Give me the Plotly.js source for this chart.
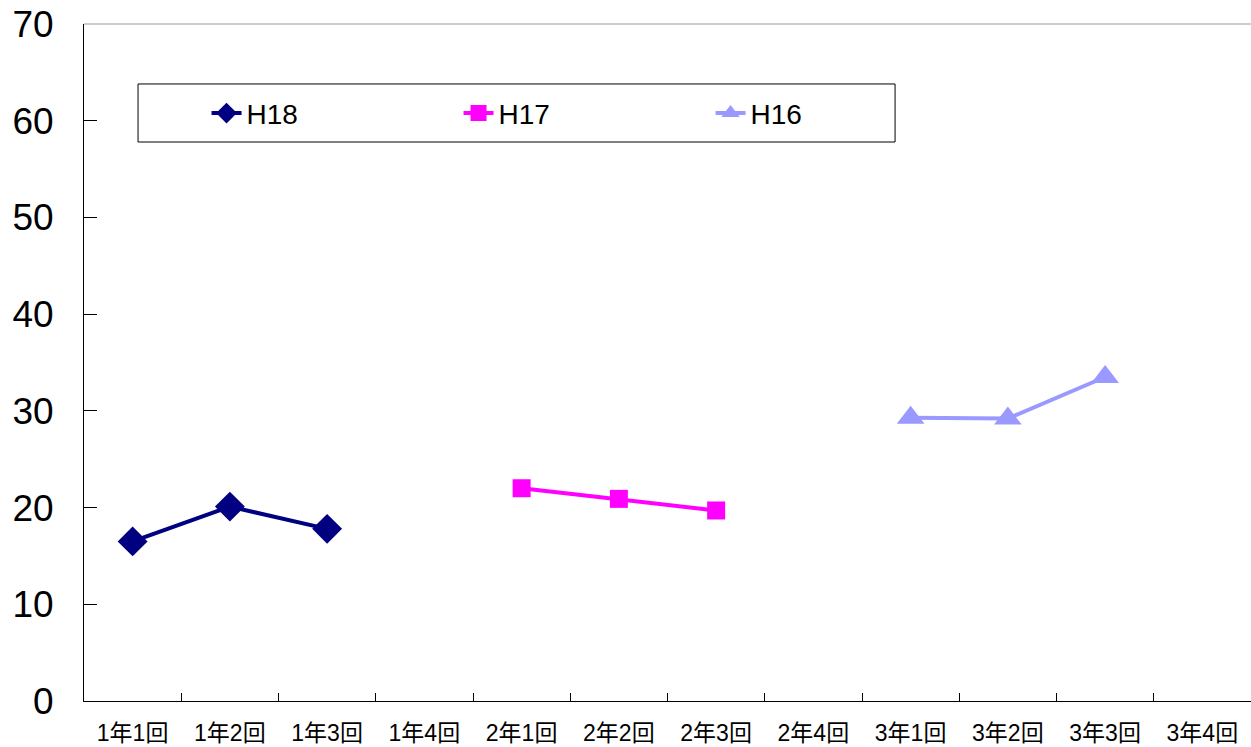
<!DOCTYPE html>
<html>
<head>
<meta charset="utf-8">
<script src="https://cdn.plot.ly/plotly-3.0.1.min.js"></script>
<style>
  html, body { margin: 0; padding: 0; background: #ffffff; }
  #chart { width: 1251px; height: 747px; }
</style>
</head>
<body>
<div id="chart"></div>
<script>
// Survey rounds on the x axis
const categories = ['1年1回', '1年2回', '1年3回', '1年4回', '2年1回', '2年2回', '2年3回', '2年4回', '3年1回', '3年2回', '3年3回', '3年4回'];

// Each cohort's values by round (null = no survey)
const h18Values = [16.5, 20.1, 17.8, null, null, null, null, null, null, null, null, null];
const h17Values = [null, null, null, null, 22.0, 20.9, 19.7, null, null, null, null, null];
const h16Values = [null, null, null, null, null, null, null, null, 29.3, 29.2, 33.5, null];

const seriesNames = ['H18', 'H17', 'H16'];
const yTicks = [0, 10, 20, 30, 40, 50, 60, 70];

const traces = [
  {
    x: categories, y: h18Values, name: seriesNames[0], type: 'scatter', mode: 'lines+markers',
    line: { color: '#000080', width: 4 },
    marker: { symbol: 'diamond', size: 23, color: '#000080' }
  },
  {
    x: categories, y: h17Values, name: seriesNames[1], type: 'scatter', mode: 'lines+markers',
    line: { color: '#FF00FF', width: 4 },
    marker: { symbol: 'square', size: 18, color: '#FF00FF' }
  },
  {
    x: categories, y: h16Values, name: seriesNames[2], type: 'scatter', mode: 'lines+markers',
    line: { color: '#9999FF', width: 4 },
    marker: { symbol: 'triangle-up', size: 24, color: '#9999FF' }
  }
];

const layout = {
  width: 1251,
  height: 747,
  margin: { l: 84, r: 0, t: 24, b: 46 },
  paper_bgcolor: '#ffffff',
  plot_bgcolor: '#ffffff',
  font: { family: 'Liberation Sans, Arial, "Noto Sans CJK JP", sans-serif', color: '#000000' },
  showlegend: true,
  legend: {
    orientation: 'h',
    x: 0.105, xanchor: 'left',
    y: 0.868, yanchor: 'middle',
    entrywidth: 207, entrywidthmode: 'pixels',
    bgcolor: 'rgba(0,0,0,0)',
    borderwidth: 0,
    font: { size: 28, family: 'Liberation Sans, Arial, sans-serif', color: '#000000' },
    traceorder: 'normal'
  },
  xaxis: {
    type: 'category',
    categoryorder: 'array',
    categoryarray: categories,
    range: [-0.5, categories.length - 0.5],
    showgrid: false,
    zeroline: false,
    showline: true,
    linecolor: '#000000',
    linewidth: 1,
    ticks: 'inside',
    tickson: 'boundaries',
    ticklen: 8,
    tickcolor: '#000000',
    tickfont: { size: 23, family: 'Liberation Sans, Arial, "Noto Sans CJK JP", sans-serif', color: '#000000' },
    ticklabelstandoff: 11,
    fixedrange: true
  },
  yaxis: {
    range: [0, 70],
    tickvals: yTicks,
    ticktext: yTicks.map(String),
    showgrid: false,
    zeroline: false,
    showline: true,
    linecolor: '#000000',
    linewidth: 1,
    ticks: 'inside',
    ticklen: 13,
    tickcolor: '#000000',
    tickfont: { size: 37, family: 'Liberation Sans, Arial, sans-serif', color: '#000000' },
    ticklabelstandoff: 22,
    fixedrange: true
  },
  shapes: [
    // top edge of the plot area
    { type: 'line', xref: 'paper', yref: 'paper', x0: 0, x1: 1, y0: 1, y1: 1,
      line: { color: '#999999', width: 1 } },
    // frame around the legend
    { type: 'rect', xref: 'paper', yref: 'paper', x0: 0.0463, x1: 0.695, y0: 0.8257, y1: 0.9114,
      line: { color: '#000000', width: 1 }, fillcolor: 'rgba(0,0,0,0)', layer: 'below' }
  ]
};

Plotly.newPlot('chart', traces, layout, { staticPlot: true, displayModeBar: false });
</script>
</body>
</html>
